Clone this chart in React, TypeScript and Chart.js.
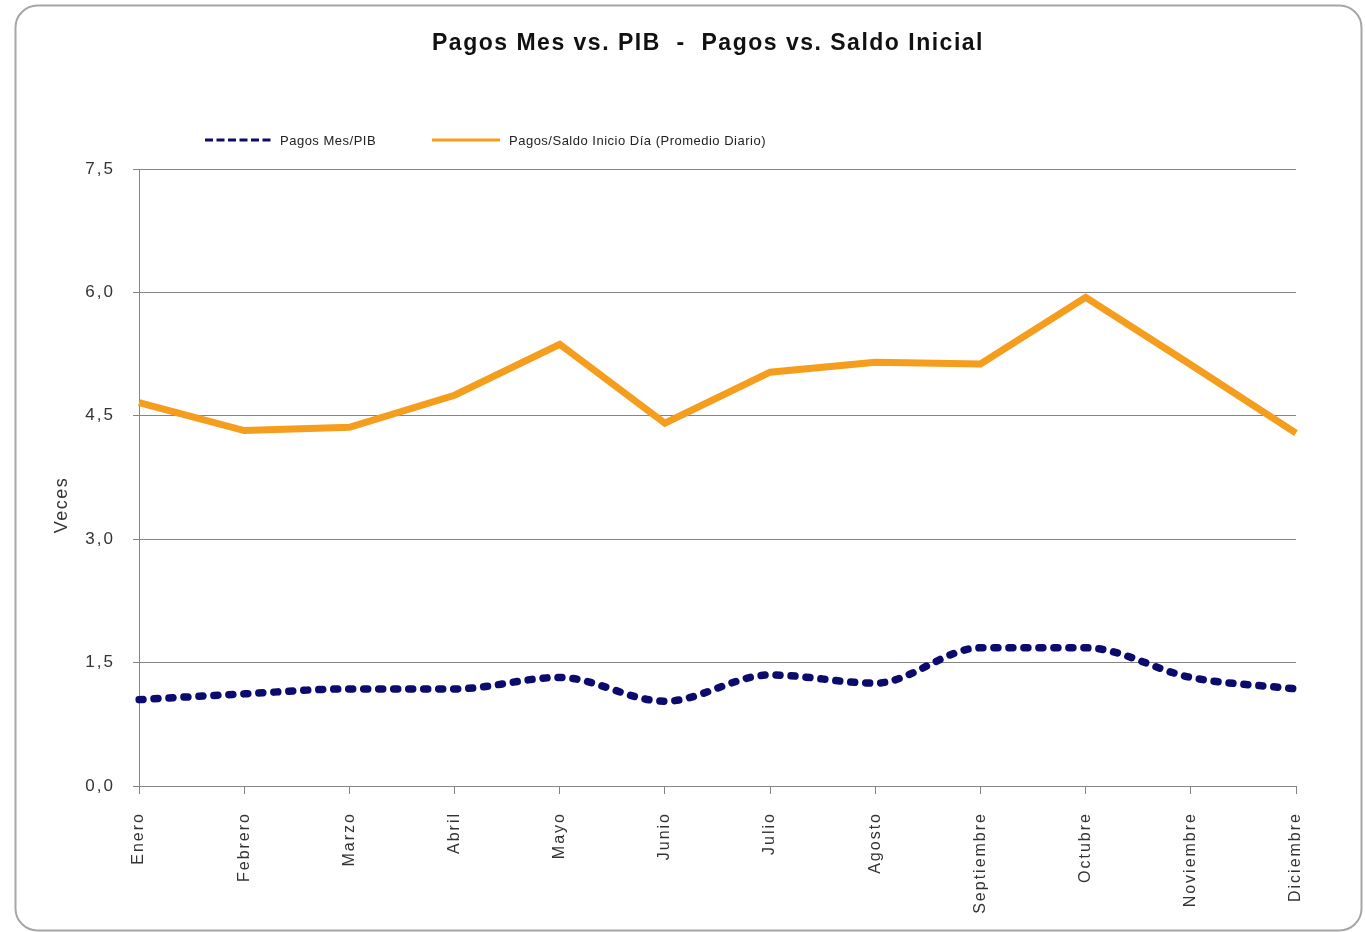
import React, { useEffect, useRef } from "react";
import { Chart, registerables } from "chart.js";

Chart.register(...registerables);

const months = [
  "Enero",
  "Febrero",
  "Marzo",
  "Abril",
  "Mayo",
  "Junio",
  "Julio",
  "Agosto",
  "Septiembre",
  "Octubre",
  "Noviembre",
  "Diciembre",
];

const pagosMesPib = [1.05, 1.12, 1.18, 1.18, 1.32, 1.03, 1.35, 1.25, 1.68, 1.68, 1.32, 1.18];
const pagosSaldoInicio = [4.66, 4.32, 4.36, 4.75, 5.37, 4.41, 5.03, 5.15, 5.13, 5.94, 5.12, 4.29];

const yMin = 0;
const yMax = 7.5;
const yStep = 1.5;

const titleText = "Pagos Mes vs. PIB  -  Pagos vs. Saldo Inicial";
const seriesNames = ["Pagos Mes/PIB", "Pagos/Saldo Inicio Día (Promedio Diario)"];
const yAxisTitle = "Veces";

const FONT = "'Liberation Sans', Arial, Helvetica, sans-serif";
const BLUE = "#0B0B6E";
const ORANGE = "#F59D1C";
const GRID = "#858585";
const TEXT = "#333333";

function roundRect(ctx: CanvasRenderingContext2D, x: number, y: number, w: number, h: number, r: number) {
  ctx.beginPath();
  ctx.moveTo(x + r, y);
  ctx.lineTo(x + w - r, y);
  ctx.arcTo(x + w, y, x + w, y + r, r);
  ctx.lineTo(x + w, y + h - r);
  ctx.arcTo(x + w, y + h, x + w - r, y + h, r);
  ctx.lineTo(x + r, y + h);
  ctx.arcTo(x, y + h, x, y + h - r, r);
  ctx.lineTo(x, y + r);
  ctx.arcTo(x, y, x + r, y, r);
  ctx.closePath();
}

const framePlugin = {
  id: "frame",
  beforeDraw(chart: any) {
    const ctx: CanvasRenderingContext2D = chart.ctx;
    ctx.save();
    ctx.fillStyle = "#ffffff";
    ctx.fillRect(0, 0, chart.width, chart.height);
    roundRect(ctx, 15.5, 5.5, 1346, 925, 22);
    ctx.strokeStyle = "#a6a6a6";
    ctx.lineWidth = 2;
    ctx.stroke();
    ctx.restore();
    (ctx as any).letterSpacing = "2px";
  },
  afterDraw(chart: any) {
    const ctx: CanvasRenderingContext2D = chart.ctx;
    ctx.save();
    // Title
    (ctx as any).letterSpacing = "1.5px";
    ctx.font = `bold 23px ${FONT}`;
    ctx.fillStyle = "#111111";
    ctx.textAlign = "center";
    ctx.textBaseline = "middle";
    ctx.fillText(titleText, 708, 44);

    // Y axis title
    ctx.save();
    (ctx as any).letterSpacing = "1.5px";
    ctx.font = `18px ${FONT}`;
    ctx.fillStyle = TEXT;
    ctx.translate(62, 505);
    ctx.rotate(-Math.PI / 2);
    ctx.textAlign = "center";
    ctx.textBaseline = "middle";
    ctx.fillText(yAxisTitle, 0, 0);
    ctx.restore();

    // Legend
    (ctx as any).letterSpacing = "0.5px";
    ctx.font = `13px ${FONT}`;
    ctx.textAlign = "left";
    ctx.textBaseline = "middle";
    ctx.fillStyle = "#222222";
    const ly = 140;
    const items = [
      { x: 205, color: BLUE, dash: [8, 3.5], textX: 280, label: seriesNames[0] },
      { x: 432, color: ORANGE, dash: [] as number[], textX: 509, label: seriesNames[1] },
    ];
    for (const it of items) {
      ctx.save();
      ctx.beginPath();
      ctx.setLineDash(it.dash);
      ctx.strokeStyle = it.color;
      ctx.lineWidth = 3;
      ctx.moveTo(it.x, ly);
      ctx.lineTo(it.x + 68, ly);
      ctx.stroke();
      ctx.restore();
      ctx.fillText(it.label, it.textX, ly + 1);
    }
    ctx.restore();
  },
};

export default function App() {
  const canvasRef = useRef<HTMLCanvasElement | null>(null);

  useEffect(() => {
    if (!canvasRef.current) return;
    const chart = new Chart(canvasRef.current, {
      type: "line",
      data: {
        labels: months,
        datasets: [
          {
            label: seriesNames[0],
            data: pagosMesPib,
            borderColor: BLUE,
            backgroundColor: BLUE,
            borderWidth: 7.5,
            borderDash: [4, 11],
            borderCapStyle: "round",
            borderJoinStyle: "round",
            cubicInterpolationMode: "monotone",
            tension: 0.4,
            pointRadius: 0,
            fill: false,
          },
          {
            label: seriesNames[1],
            data: pagosSaldoInicio,
            borderColor: ORANGE,
            backgroundColor: ORANGE,
            borderWidth: 7,
            tension: 0,
            pointRadius: 0,
            fill: false,
          },
        ],
      },
      options: {
        responsive: false,
        animation: false,
        layout: { padding: { left: 49, right: 69, top: 169, bottom: 6 } },
        plugins: {
          legend: { display: false },
          title: { display: false },
          tooltip: { enabled: false },
        },
        scales: {
          x: {
            type: "category",
            offset: false,
            grid: {
              display: true,
              drawOnChartArea: false,
              drawTicks: true,
              tickLength: 8,
              color: GRID,
            },
            border: { color: GRID, width: 1 },
            ticks: {
              autoSkip: false,
              minRotation: 90,
              maxRotation: 90,
              padding: 18,
              color: TEXT,
              font: { family: FONT, size: 16 },
            },
            afterFit: (scale: any) => {
              scale.height = 140;
            },
          },
          y: {
            min: yMin,
            max: yMax,
            grid: { color: GRID, tickLength: 6, lineWidth: 1 },
            border: { color: GRID, width: 1 },
            ticks: {
              stepSize: yStep,
              padding: 18,
              color: TEXT,
              font: { family: FONT, size: 17 },
              callback: (v: any) => Number(v).toFixed(1).replace(".", ","),
            },
            afterFit: (scale: any) => {
              scale.width = 90;
            },
          },
        },
      },
      plugins: [framePlugin],
    });
    return () => chart.destroy();
  }, []);

  return (
    <div
      style={{
        position: "fixed",
        left: 0,
        top: 0,
        width: 1365,
        height: 932,
        background: "#ffffff",
        overflow: "hidden",
      }}
    >
      <canvas ref={canvasRef} width={1365} height={932} style={{ width: 1365, height: 932, display: "block" }} />
    </div>
  );
}
